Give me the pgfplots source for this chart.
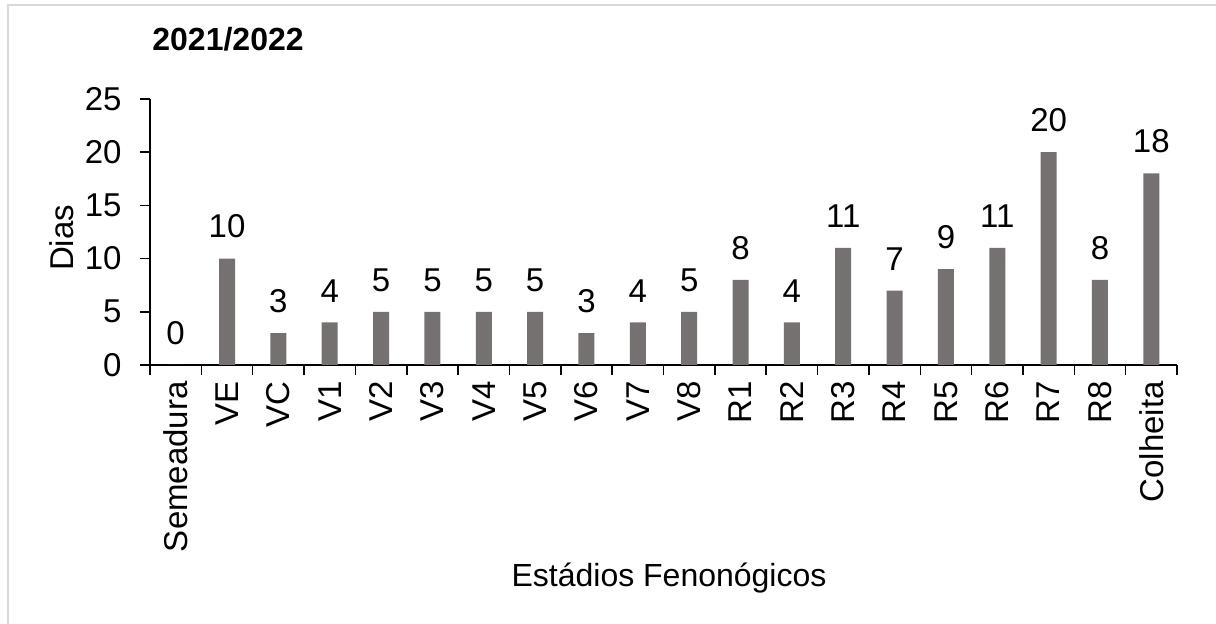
\documentclass[border=0pt]{standalone}
\usepackage{pgfplots}
\pgfplotsset{compat=1.18}
\usepackage{fontspec}
\setmainfont{Liberation Sans}
\definecolor{barc}{HTML}{767171}
\definecolor{framec}{HTML}{D9D9D9}
\begin{document}
\begin{tikzpicture}
\useasboundingbox (0,0) rectangle (608pt,312pt);
\draw[framec, line width=1pt] (4pt,-2pt) -- (4pt,309.5pt) -- (610pt,309.5pt);
\begin{axis}[
  at={(75pt,129.5pt)}, anchor=south west,
  scale only axis, width=513.5pt, height=133pt,
  xmin=-0.5, xmax=19.5, ymin=0, ymax=25,
  axis x line*=bottom, axis y line*=left,
  axis line style={line width=0.75pt, black},
  every tick/.style={line width=0.75pt, black},
  tick align=outside,
  major tick length=5pt, minor tick length=5pt,
  ytick={0,5,...,25},
  xtick={0,...,19},
  major x tick style={draw=none},
  minor xtick={-0.5,0.5,...,19.5},
  xticklabels={Semeadura,VE,VC,V1,V2,V3,V4,V5,V6,V7,V8,R1,R2,R3,R4,R5,R6,R7,R8,Colheita},
  xticklabel style={rotate=90, anchor=east, inner sep=0pt, xshift=-3pt, yshift=0pt, font=\fontsize{16.5}{19}\selectfont},
  yticklabel style={inner sep=0pt, xshift=-9pt, font=\fontsize{16.5}{19}\selectfont},
  /pgf/number format/assume math mode=true,
  ybar, bar width=8pt, bar shift=0pt,
  nodes near coords,
  every node near coord/.append style={anchor=south, inner sep=0pt, yshift=10pt, font=\fontsize{16.5}{19}\selectfont, black},
  clip=false,
]
\addplot[fill=barc, draw=none] coordinates {
(0,0) (1,10) (2,3) (3,4) (4,5) (5,5) (6,5) (7,5) (8,3) (9,4)
(10,5) (11,8) (12,4) (13,11) (14,7) (15,9) (16,11) (17,20) (18,8) (19,18)};
\end{axis}
\node[anchor=base west, inner sep=0pt, font=\fontsize{16}{19}\selectfont\bfseries] at (76pt,286.5pt) {2021/2022};
\node[rotate=90, inner sep=0pt, font=\fontsize{16.5}{19}\selectfont] at (31pt,193pt) {Dias};
\node[anchor=base, inner sep=0pt, font=\fontsize{16}{19}\selectfont] at (334.5pt,18.5pt) {Estádios Fenonógicos};
\end{tikzpicture}
\end{document}
